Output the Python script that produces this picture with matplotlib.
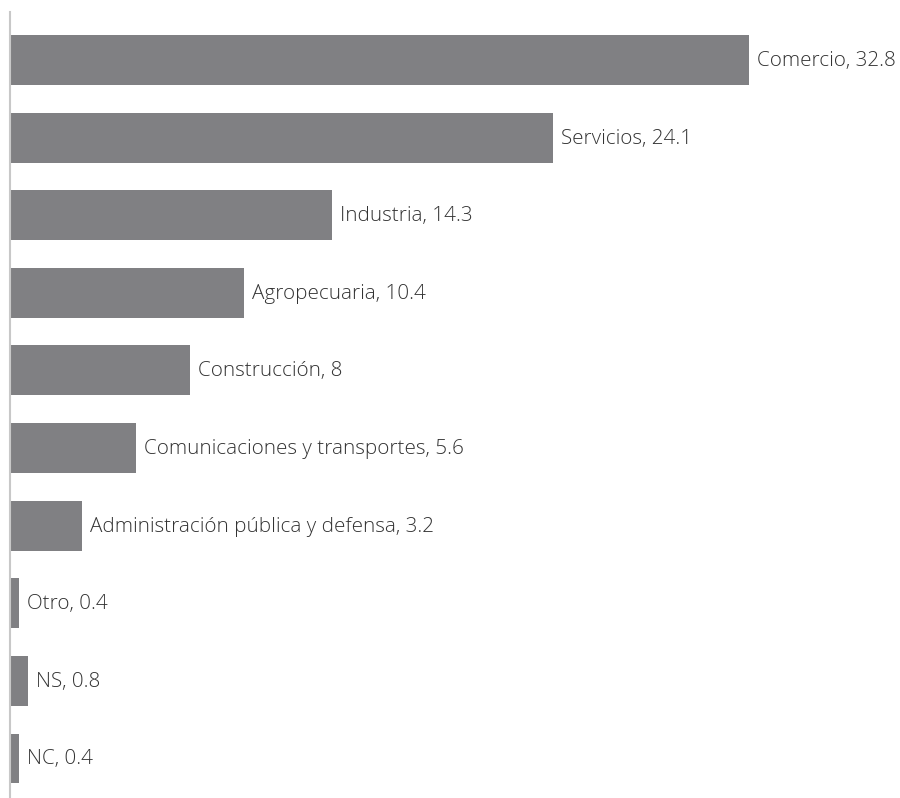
import matplotlib
matplotlib.use("Agg")
import matplotlib.pyplot as plt

categories = [
    "Comercio",
    "Servicios",
    "Industria",
    "Agropecuaria",
    "Construcción",
    "Comunicaciones y transportes",
    "Administración pública y defensa",
    "Otro",
    "NS",
    "NC",
]
values = [32.8, 24.1, 14.3, 10.4, 8, 5.6, 3.2, 0.4, 0.8, 0.4]

BAR_COLOR = "#808083"
TEXT_COLOR = "#333333"

fig = plt.figure(figsize=(9, 7.98), dpi=100)
ax = fig.add_axes([10 / 900, 0, 880 / 900, 1 - 12 / 798])

pos = list(range(len(categories)))
ax.barh(pos, values, height=0.644, color=BAR_COLOR, linewidth=0)

# value labels right after each bar
for y, name, v in zip(pos, categories, values):
    ax.annotate(f"{name}, {v:g}", xy=(v, y), xytext=(8, -1),
                textcoords="offset pixels",
                va="center", ha="left", fontsize=14.9,
                family="Open Sans", fontweight="light", color=TEXT_COLOR)

ax.set_xlim(0, 880 / 22.53)
ax.set_ylim(9.509, -0.618)

for side in ("top", "right", "bottom"):
    ax.spines[side].set_visible(False)
ax.spines["left"].set_color("#c8c8c8")
ax.spines["left"].set_linewidth(1.5)
ax.set_xticks([])
ax.set_yticks([])

fig.savefig("out.png", dpi=100)
